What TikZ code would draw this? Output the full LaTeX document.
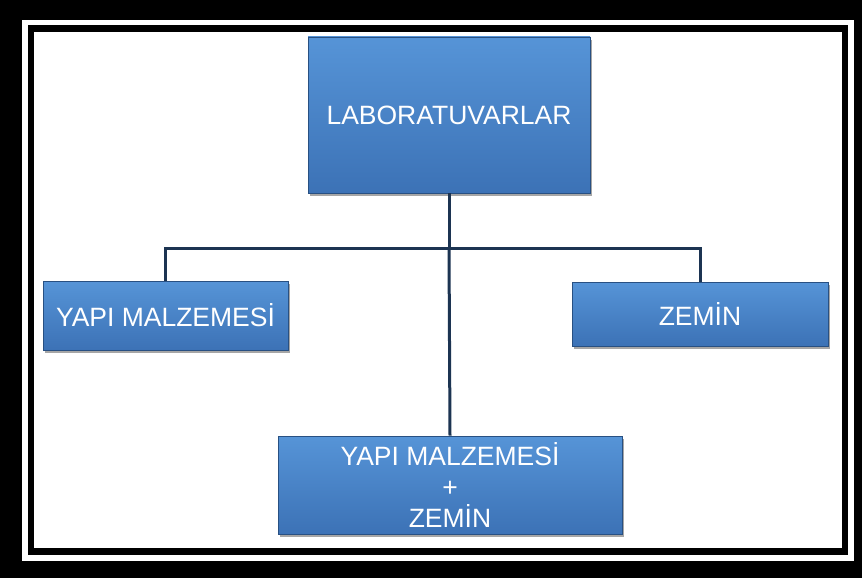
\documentclass[tikz,border=0pt]{standalone}
\usepackage{fontspec}
\setmainfont{Liberation Sans}
\usetikzlibrary{shadows}
\definecolor{boxtop}{RGB}{86,148,215}
\definecolor{boxbot}{RGB}{60,114,182}
\definecolor{boxedge}{RGB}{40,80,130}
\definecolor{linkc}{RGB}{28,52,82}
\tikzset{
  blk/.style={draw=boxedge, line width=0.8pt, top color=boxtop, bottom color=boxbot,
    text=white, font=\fontsize{26.5}{31}\selectfont, align=center, inner sep=0pt,
    drop shadow={shadow xshift=1.5pt, shadow yshift=-3pt, fill=black, opacity=0.35}},
  link/.style={draw=linkc, line width=3pt}
}
\begin{document}
\begin{tikzpicture}[x=1pt,y=-1pt]
\useasboundingbox (0,0) rectangle (862,578);
\fill[black] (0,0) rectangle (862,578);
\fill[white] (22,20) rectangle (854,561);
\fill[black] (28,25) rectangle (848,555);
\fill[white] (34,32) rectangle (842,548);
\node[blk, minimum width=282pt, minimum height=156pt] (lab) at (449,115) {LABORATUVARLAR};
\node[blk, minimum width=245pt, minimum height=69pt] (yapi) at (165.5,315.5) {YAPI MALZEMESİ};
\node[blk, minimum width=256pt, minimum height=64pt] (zemin) at (700,314) {ZEMİN};
\node[blk, minimum width=344pt, minimum height=98pt] (both) at (450,485) {YAPI MALZEMESİ\\+\\ZEMİN};
\coordinate (j) at (449,248);
\draw[link] (lab.south) -- (j);
\draw[link] (yapi.north) -- (yapi.north |- j) -- (zemin.north |- j) -- (zemin.north);
\draw[link] (j) -- (both.north);
\end{tikzpicture}
\end{document}
